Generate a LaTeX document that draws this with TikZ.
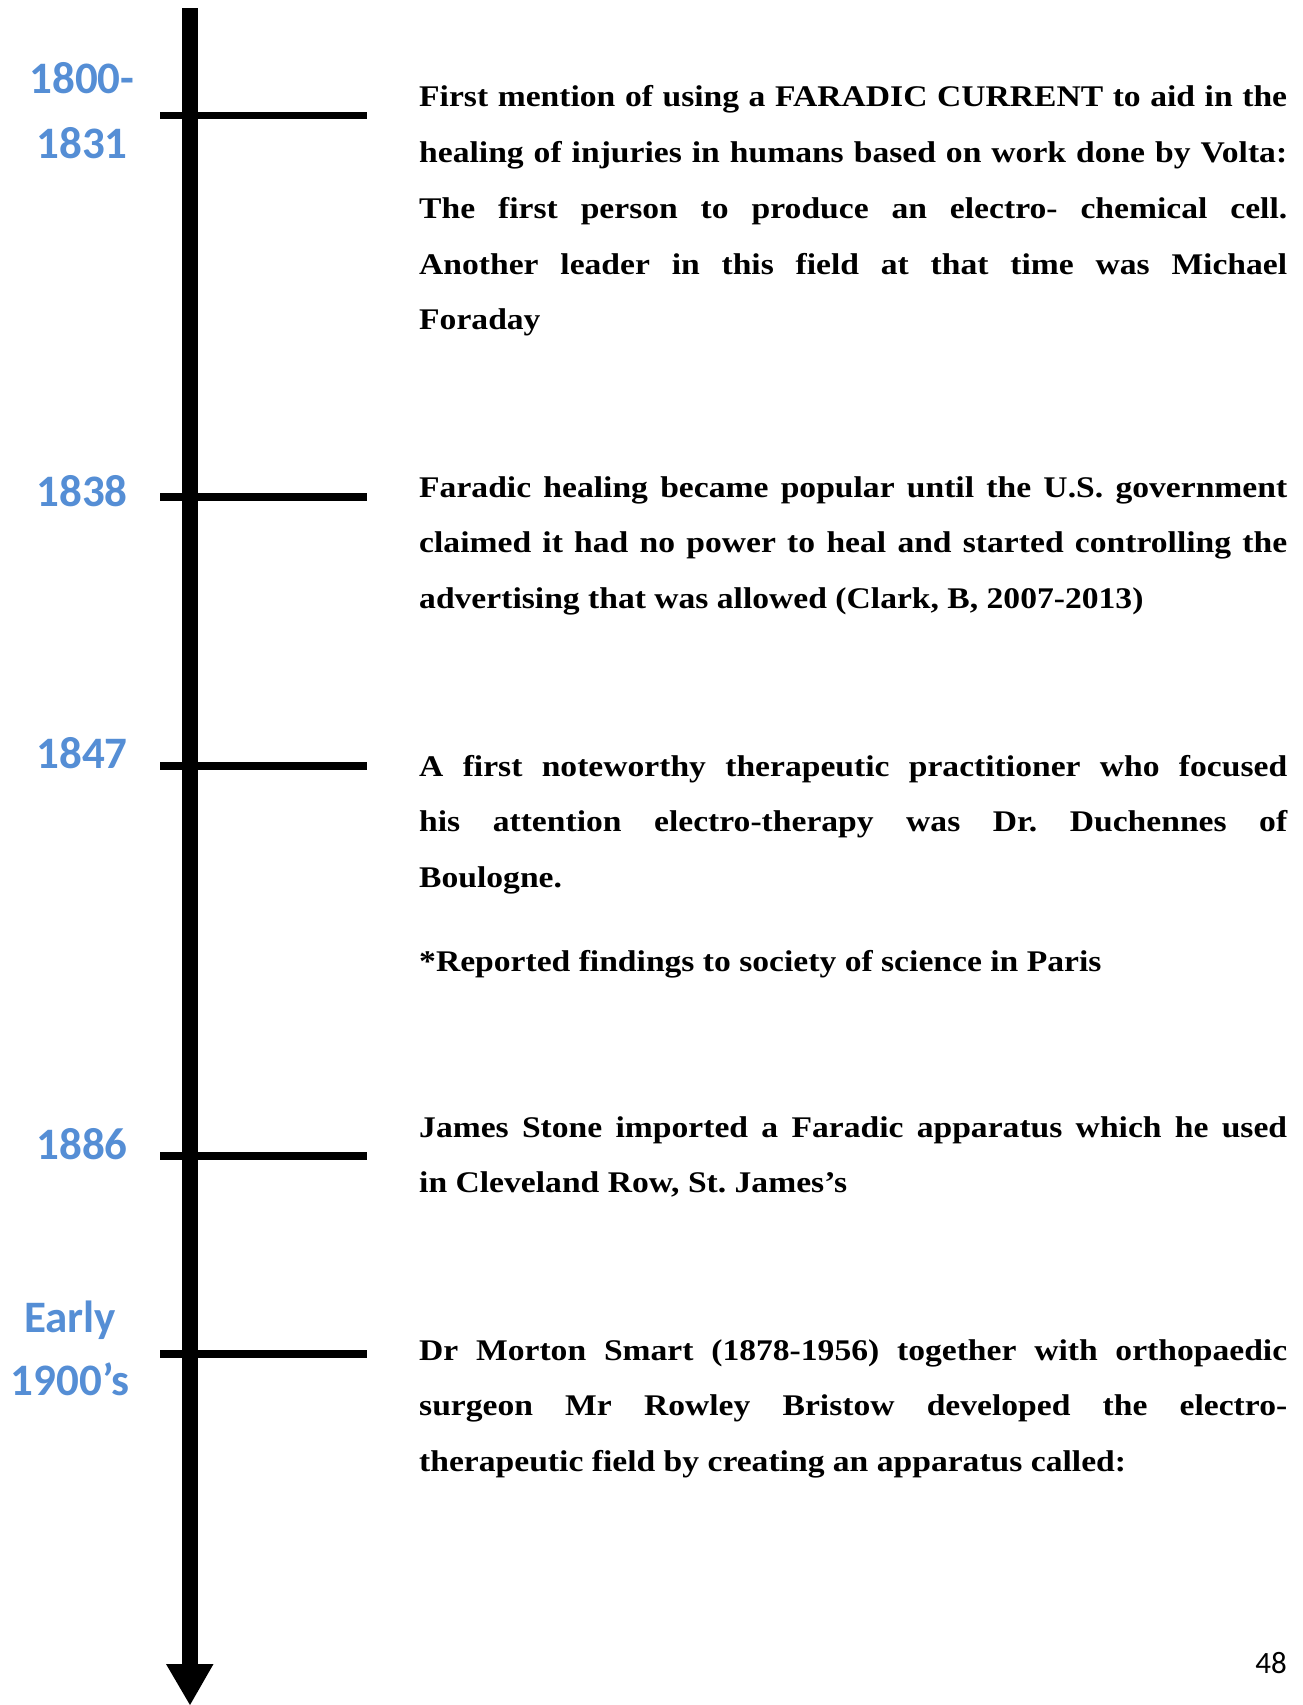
\documentclass[tikz,border=0pt]{standalone}
\usepackage{fontspec}
\newfontfamily\bodyfont[FakeStretch=1.12]{Liberation Serif}
\newfontfamily\yearfont{Carlito}
\definecolor{yearblue}{RGB}{85,142,213}
\hyphenpenalty=10000
\exhyphenpenalty=10000
\frenchspacing
\begin{document}
\begin{tikzpicture}[x=1pt,y=-1pt,
  para/.style={anchor=base west, inner sep=0pt, text width=868pt, align=justify,
    font=\bodyfont\bfseries\fontsize{30}{55.8}\selectfont},
  year/.style={anchor=base, inner sep=0pt, text=yearblue, font=\yearfont\bfseries\fontsize{45}{50}\selectfont},
  tick/.style={line width=7.5pt},
  axis/.style={line width=16pt}]
\useasboundingbox (0,0) rectangle (1302,1705);
% axis
\coordinate (top) at (190,8);
\coordinate (headbase) at (190,1665);
\coordinate (hl) at (166,1664);
\coordinate (hr) at (213.5,1664);
\coordinate (tip) at (190,1705);
\draw[axis] (top) -- (headbase);
\fill (hl) -- (hr) -- (tip) -- cycle;
% ticks
\foreach \n/\y in {a/115.7,b/497,c/766,d/1156,e/1354}{
  \coordinate (t\n l) at (160,\y);
  \coordinate (t\n r) at (367,\y);
  \draw[tick] (t\n l) -- (t\n r);
}
% year labels
\node[year] (y1a) at (82,93) {1800-};
\node[year] (y1b) at (82,158) {1831};
\node[year] (y2) at (82,506) {1838};
\node[year] (y3) at (82,768) {1847};
\node[year] (y4) at (82,1159) {1886};
\node[year] (y5a) at (70,1332) {Early};
\node[year] (y5b) at (70,1395) {1900’s};
% paragraphs
\node[para] (p1) at (419,106.7) {First mention of using a FARADIC CURRENT to aid in the \linebreak healing of injuries in humans based on work done by Volta: \linebreak The first person to produce an electro- chemical cell. \linebreak Another leader in this field at that time was Michael \linebreak Foraday};
\node[para] (p2) at (419,497) {Faradic healing became popular until the U.S. government \linebreak claimed it had no power to heal and started controlling the \linebreak advertising that was allowed (Clark, B, 2007-2013)};
\node[para] (p3) at (419,776) {A first noteworthy therapeutic practitioner who focused \linebreak his attention electro-therapy was Dr. Duchennes of \linebreak Boulogne.};
\node[para] (p3b) at (419,971.5) {*Reported findings to society of science in Paris};
\node[para] (p4) at (419,1137) {James Stone imported a Faradic apparatus which he used \linebreak in Cleveland Row, St. James’s};
\node[para] (p5) at (419,1360) {Dr Morton Smart (1878-1956) together with orthopaedic \linebreak surgeon Mr Rowley Bristow developed the electro-\linebreak therapeutic field by creating an apparatus called:};
% page number
\node[anchor=base east, inner sep=0pt, font=\yearfont\fontsize{31}{36}\selectfont] (pg) at (1287,1673) {48};
\end{tikzpicture}
\end{document}
